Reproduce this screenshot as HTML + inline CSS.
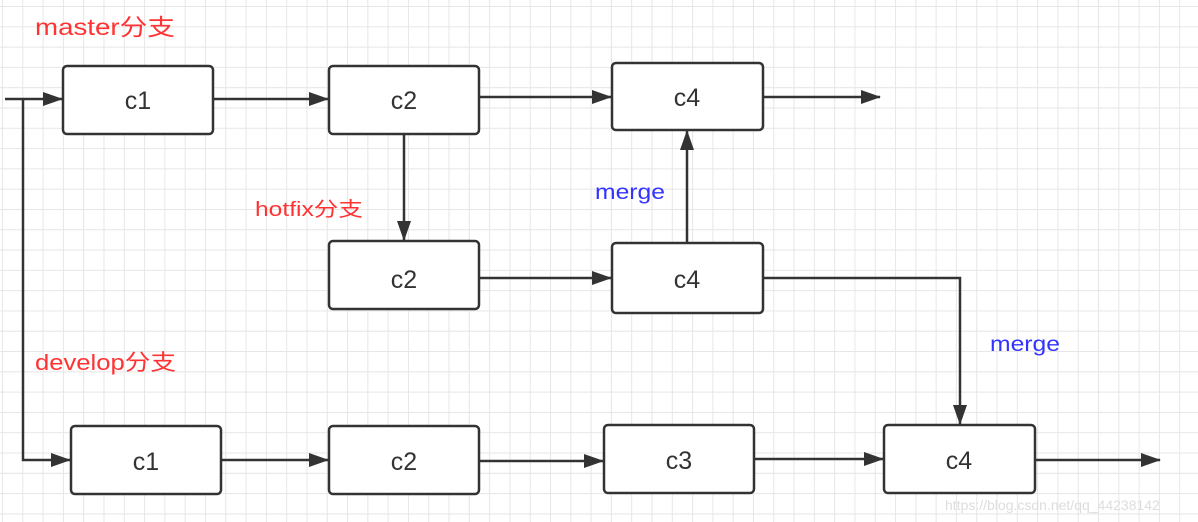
<!DOCTYPE html>
<html><head><meta charset="utf-8"><style>
body{margin:0;width:1198px;height:522px;overflow:hidden;background:#fff;
background-image:linear-gradient(#e6e6e6 1px,transparent 1px),linear-gradient(90deg,#e6e6e6 1px,transparent 1px);
background-size:20.3px 20.3px;background-position:2px 6px;font-family:"Liberation Sans","Noto Sans CJK SC",sans-serif}
</style></head><body>
<svg width="1198" height="522" style="position:absolute;left:0;top:0" font-family="Liberation Sans, Noto Sans CJK SC, sans-serif">
<defs><marker id="a" markerWidth="20" markerHeight="14" refX="19" refY="7" orient="auto" markerUnits="userSpaceOnUse"><path d="M0,0 L20,7 L0,14 z" fill="#333"/></marker></defs>
<g stroke="#333" stroke-width="2.5" fill="none">
<path d="M5,99 H62" marker-end="url(#a)"/>
<path d="M23,99 V460 H70" marker-end="url(#a)"/>
<path d="M213,99 H328" marker-end="url(#a)"/>
<path d="M479,97 H611" marker-end="url(#a)"/>
<path d="M763,97 H880" marker-end="url(#a)"/>
<path d="M404,134 V240" marker-end="url(#a)"/>
<path d="M479,278 H611" marker-end="url(#a)"/>
<path d="M687,243 V131" marker-end="url(#a)"/>
<path d="M763,278 H960 V424" marker-end="url(#a)"/>
<path d="M221,460 H328" marker-end="url(#a)"/>
<path d="M479,461 H603" marker-end="url(#a)"/>
<path d="M754,459 H883" marker-end="url(#a)"/>
<path d="M1035,460 H1160" marker-end="url(#a)"/>
</g>
<g stroke="#333" stroke-width="2.5" fill="#fff">
<rect x="63" y="66" width="150" height="68" rx="4"/>
<rect x="329" y="66" width="150" height="68" rx="4"/>
<rect x="612" y="63" width="151" height="67" rx="4"/>
<rect x="329" y="241" width="150" height="68" rx="4"/>
<rect x="612" y="243" width="151" height="70" rx="4"/>
<rect x="71" y="426" width="150" height="68" rx="4"/>
<rect x="329" y="426" width="150" height="68" rx="4"/>
<rect x="604" y="425" width="150" height="68" rx="4"/>
<rect x="884" y="425" width="151" height="68" rx="4"/>
</g>
<g font-size="25" fill="#333" text-anchor="middle">
<text x="138" y="109">c1</text><text x="404" y="109">c2</text><text x="687" y="106">c4</text>
<text x="404" y="288">c2</text><text x="687" y="288">c4</text>
<text x="146" y="470">c1</text><text x="404" y="470">c2</text><text x="679" y="469">c3</text><text x="959" y="469">c4</text>
</g>
<text x="35" y="35" font-size="23" fill="#ff3333" textLength="140" lengthAdjust="spacingAndGlyphs">master分支</text>
<text x="255" y="216" font-size="20" fill="#ff3333" textLength="108" lengthAdjust="spacingAndGlyphs">hotfix分支</text>
<text x="35" y="370" font-size="22" fill="#ff3333" textLength="141" lengthAdjust="spacingAndGlyphs">develop分支</text>
<text x="595" y="199" font-size="21" fill="#3333ff" textLength="70" lengthAdjust="spacingAndGlyphs">merge</text>
<text x="990" y="351" font-size="21" fill="#3333ff" textLength="70" lengthAdjust="spacingAndGlyphs">merge</text>
<text x="945" y="510" font-size="14" fill="#ddd">https://blog.csdn.net/qq_44238142</text>
</svg>
</body></html>
